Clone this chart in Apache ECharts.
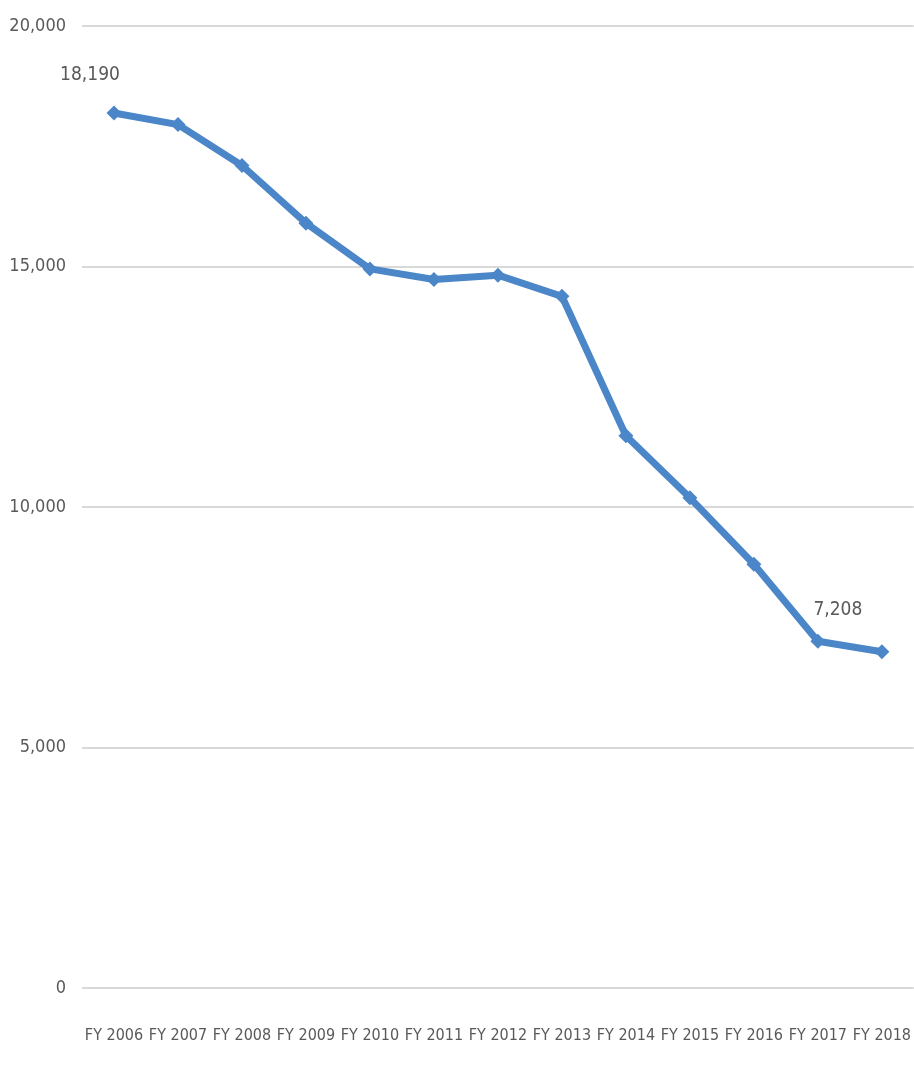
<!DOCTYPE html>
<html>
<head>
<meta charset="utf-8">
<script src="https://cdn.jsdelivr.net/npm/echarts@6/dist/echarts.min.js"></script>
<style>
  html, body { margin: 0; padding: 0; background: #fff; }
  #chart { width: 914px; height: 1066px; }
</style>
</head>
<body>
<div id="chart"></div>
<script>
const years = ['FY 2006', 'FY 2007', 'FY 2008', 'FY 2009', 'FY 2010', 'FY 2011', 'FY 2012',
  'FY 2013', 'FY 2014', 'FY 2015', 'FY 2016', 'FY 2017', 'FY 2018']
const counts = [18190, 17950, 17100, 15900, 14950, 14730, 14820, 14380, 11480, 10190, 8810, 7208, 6990]
// only these points carry a value label
const labelled = { 0: [-24, -16], 11: [20, -9] }

const chart = echarts.init(document.getElementById('chart'))
const font = '"Liberation Sans Narrow", "DejaVu Sans Condensed", sans-serif'

chart.setOption({
  animation: false,
  grid: { left: 82, right: 0, top: 26, bottom: 78 },
  xAxis: {
    type: 'category',
    data: years,
    boundaryGap: true,
    axisLine: { show: false },
    axisTick: { show: false },
    axisLabel: { color: '#595959', fontSize: 16, fontFamily: font, margin: 40, interval: 0 }
  },
  yAxis: {
    type: 'value',
    min: 0,
    max: 20000,
    interval: 5000,
    axisLine: { show: false },
    axisTick: { show: false },
    axisLabel: {
      color: '#595959', fontSize: 18, fontFamily: font, margin: 16,
      formatter: v => v.toLocaleString('en-US')
    },
    splitLine: { lineStyle: { color: '#d9d9d9', width: 2 } }
  },
  series: [{
    type: 'line',
    data: counts.map((v, i) => labelled[i] ? {
      value: v,
      label: {
        show: true, position: 'top', offset: labelled[i],
        color: '#595959', fontSize: 19, fontFamily: font,
        formatter: p => p.value.toLocaleString('en-US')
      }
    } : v),
    symbol: 'diamond',
    symbolSize: 15,
    lineStyle: { color: '#4a86c8', width: 7 },
    itemStyle: { color: '#4a86c8' }
  }]
})
</script>
</body>
</html>
